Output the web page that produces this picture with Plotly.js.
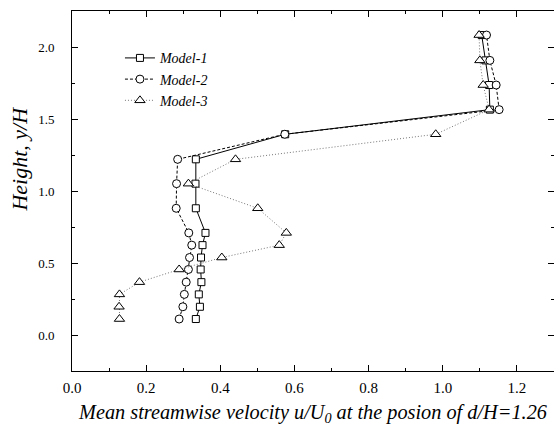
<!DOCTYPE html>
<html>
<head>
<meta charset="utf-8">
<script src="https://cdn.plot.ly/plotly-3.0.1.min.js"></script>
<style>html,body{margin:0;padding:0;background:#fff;}#chart{width:554px;height:426px;}</style>
</head>
<body>
<div id="chart"></div>
<script>
// Heights y/H (shared by all models)
const heights = [0.111, 0.196, 0.282, 0.367, 0.455, 0.538, 0.624, 0.709, 0.880, 1.051, 1.220, 1.394, 1.565, 1.736, 1.907, 2.083];
// Mean streamwise velocity u/U0
const model1 = [0.334, 0.345, 0.342, 0.349, 0.347, 0.348, 0.352, 0.360, 0.334, 0.333, 0.334, 0.575, 1.127, 1.125, 1.115, 1.105];
const model2 = [0.289, 0.299, 0.303, 0.308, 0.314, 0.317, 0.323, 0.315, 0.281, 0.282, 0.285, 0.574, 1.152, 1.144, 1.127, 1.118];
const model3 = [0.128, 0.127, 0.128, 0.182, 0.289, 0.404, 0.559, 0.578, 0.501, 0.314, 0.441, 0.981, 1.125, 1.109, 1.100, 1.098];
const seriesNames = ["Model-1", "Model-2", "Model-3"];
const xTicks = [0, 0.2, 0.4, 0.6, 0.8, 1.0, 1.2];
const yTicks = [0, 0.5, 1.0, 1.5, 2.0];

const serif = "Liberation Serif, Times New Roman, serif";

const traces = [
  {x: model1, y: heights, name: seriesNames[0], mode: "lines+markers",
   line: {color: "#000", width: 1, dash: "solid"},
   marker: {symbol: "square", size: 7, color: "#fff", line: {color: "#000", width: 1}}},
  {x: model2, y: heights, name: seriesNames[1], mode: "lines+markers",
   line: {color: "#000", width: 1, dash: "3px,2px"},
   marker: {symbol: "circle", size: 8, color: "#fff", line: {color: "#000", width: 1}}},
  {x: model3, y: heights, name: seriesNames[2], mode: "lines+markers",
   line: {color: "#777", width: 1, dash: "1px,2px"},
   marker: {symbol: "triangle-up", size: 9, color: "#fff", line: {color: "#000", width: 1}}}
];

const layout = {
  width: 554, height: 426,
  margin: {l: 72, r: 0, t: 11, b: 55},
  paper_bgcolor: "#fff", plot_bgcolor: "#fff",
  font: {family: serif, color: "#000"},
  showlegend: true,
  legend: {x: 0.0995, y: 0.913, xanchor: "left", yanchor: "top", bgcolor: "rgba(0,0,0,0)",
           font: {family: serif, size: 14, style: "italic"}, tracegroupgap: 0},
  xaxis: {
    range: [0, 1.3], tickvals: xTicks, tickformat: ".1f",
    ticks: "inside", ticklen: 6, tickwidth: 1, tickcolor: "#000",
    minor: {dtick: 0.1, tick0: 0, ticks: "inside", ticklen: 3, tickcolor: "#000"},
    showline: true, linecolor: "#000", linewidth: 1, mirror: "allticks",
    showgrid: false, zeroline: false,
    tickfont: {family: serif, size: 15},
    ticklabelstandoff: 3,
    title: {text: "Mean streamwise velocity u/U<sub>0</sub> at the posion of d/H=1.26",
            font: {family: serif, size: 20.3, style: "italic"}, standoff: 9}
  },
  yaxis: {
    range: [-0.25, 2.25], tickvals: yTicks, tickformat: ".1f",
    ticks: "inside", ticklen: 6, tickwidth: 1, tickcolor: "#000",
    minor: {dtick: 0.25, tick0: 0, ticks: "inside", ticklen: 3, tickcolor: "#000"},
    showline: true, linecolor: "#000", linewidth: 1, mirror: "allticks",
    showgrid: false, zeroline: false,
    tickfont: {family: serif, size: 13},
    ticklabelstandoff: 14
  },
  annotations: [{
    text: "Height, y/H", xref: "paper", yref: "paper", x: -0.108, y: 0.59,
    xanchor: "center", yanchor: "middle", textangle: -90, showarrow: false,
    font: {family: serif, size: 22, style: "italic"}
  }]
};

Plotly.newPlot("chart", traces, layout, {displayModeBar: false, staticPlot: true});
</script>
</body>
</html>
